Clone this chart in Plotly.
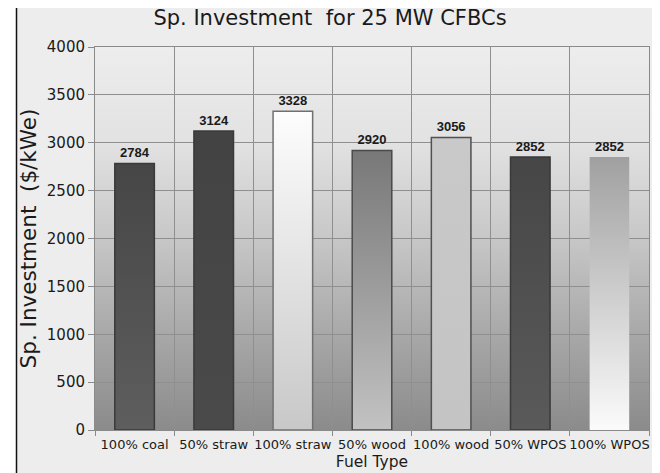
import base64
import plotly.graph_objects as go

# ---- data ----
fuel_types = ["100% coal", "50% straw", "100% straw", "50% wood",
              "100% wood", "50% WPOS", "100% WPOS"]
investment = [2784, 3124, 3328, 2920, 3056, 2852, 2852]

# bar shading (bottom colour, top colour) and outline per fuel type
bar_bottom = ["#5e5e5e", "#4a4a4a", "#c8c8c8", "#c2c2c2", "#c4c4c4", "#5a5a5a", "#fbfbfb"]
bar_top = ["#464646", "#434343", "#fdfdfd", "#787878", "#c9c9c9", "#464646", "#a0a0a0"]
bar_edge = ["#3a3a3a", "#3a3a3a", "#707070", "#4a4a4a", "#505050", "#3a3a3a", "rgba(0,0,0,0)"]

y_ticks = [0, 500, 1000, 1500, 2000, 2500, 3000, 3500, 4000]

# ---- geometry of the canvas ----
W, H = 660, 473
ML, MR, MT, MB = 95, 11, 47, 43
PW, PH = W - ML - MR, H - MT - MB
BAR_WIDTH = 0.5


def px_x(p):
    return (p - ML) / PW


def px_y(p):
    return (H - MB - p) / PH


fig = go.Figure()

# gradient bars drawn as filled outlines from the data values
for i, (name, v) in enumerate(zip(fuel_types, investment)):
    x0, x1 = i - BAR_WIDTH / 2, i + BAR_WIDTH / 2
    fig.add_trace(go.Scatter(
        x=[x0, x1, x1, x0, x0],
        y=[0, 0, v, v, 0],
        mode="lines",
        fill="toself",
        fillgradient=dict(type="vertical",
                          colorscale=[[0, bar_bottom[i]], [1, bar_top[i]]]),
        line=dict(color=bar_edge[i], width=1.5),
        hoverinfo="skip",
        showlegend=False,
        name=name,
    ))

# value labels above the bars (invisible markers give the label some lift)
fig.add_trace(go.Scatter(
    x=list(range(len(fuel_types))),
    y=investment,
    mode="markers+text",
    marker=dict(size=3, opacity=0),
    text=[str(v) for v in investment],
    textposition="top center",
    textfont=dict(family="Liberation Sans, Arial", size=13, color="#1a1a1a",
                  weight="bold"),
    hoverinfo="skip",
    showlegend=False,
))

# vertical background gradient of the plotting area
svg = (
    '<svg xmlns="http://www.w3.org/2000/svg" width="100" height="100" '
    'viewBox="0 0 100 100" preserveAspectRatio="none">'
    '<defs><linearGradient id="g" x1="0" y1="0" x2="0" y2="1">'
    '<stop offset="0" stop-color="#ededed"/>'
    '<stop offset="0.25" stop-color="#e2e2e2"/>'
    '<stop offset="0.5" stop-color="#c7c7c7"/>'
    '<stop offset="0.75" stop-color="#a8a8a8"/>'
    '<stop offset="1" stop-color="#8b8b8b"/>'
    '</linearGradient></defs>'
    '<rect x="0" y="0" width="100" height="100" fill="url(#g)"/></svg>'
)
bg_src = "data:image/svg+xml;base64," + base64.b64encode(svg.encode()).decode()

fig.update_layout(
    width=W, height=H,
    margin=dict(l=ML, r=MR, t=MT, b=MB, pad=0),
    paper_bgcolor="#ededed",
    plot_bgcolor="rgba(0,0,0,0)",
    font=dict(family="DejaVu Sans, Verdana", color="#1a1a1a"),
    title=dict(text="Sp. Investment  for 25 MW CFBCs", x=0.5, xanchor="center",
               y=1 - 18 / H, yanchor="middle",
               font=dict(family="DejaVu Sans, Verdana", size=21, color="#1a1a1a")),
    images=[dict(source=bg_src, xref="paper", yref="paper", x=0, y=1,
                 sizex=1, sizey=1, xanchor="left", yanchor="top",
                 sizing="stretch", layer="below")],
    shapes=[
        # white border strips around the chart panel
        dict(type="rect", xref="paper", yref="paper", x0=px_x(0), x1=px_x(16),
             y0=px_y(H), y1=px_y(0), fillcolor="white", line_width=0, layer="below"),
        dict(type="rect", xref="paper", yref="paper", x0=px_x(0), x1=px_x(W),
             y0=px_y(8), y1=px_y(0), fillcolor="white", line_width=0, layer="below"),
        dict(type="rect", xref="paper", yref="paper", x0=px_x(652), x1=px_x(W),
             y0=px_y(H), y1=px_y(0), fillcolor="white", line_width=0, layer="below"),
        dict(type="line", xref="paper", yref="paper", x0=px_x(16.5), x1=px_x(16.5),
             y0=px_y(H), y1=px_y(8), line=dict(color="#111111", width=1.5), layer="below"),
    ],
    showlegend=False,
)

fig.update_xaxes(
    range=[-0.5, len(fuel_types) - 0.5],
    automargin=False,
    tickmode="array",
    tickvals=list(range(len(fuel_types))),
    ticktext=fuel_types,
    ticks="",
    ticklabelstandoff=2,
    showgrid=False,
    zeroline=False,
    showline=True, mirror=True, linecolor="#8a8a8a", linewidth=1,
    tickfont=dict(family="DejaVu Sans, Verdana", size=13, color="#1a1a1a"),
    minor=dict(tickmode="array",
               tickvals=[k - 0.5 for k in range(len(fuel_types) + 1)],
               ticks="outside", ticklen=5, tickcolor="#8a8a8a",
               showgrid=True, gridcolor="#8f8f8f", gridwidth=1),
    title=dict(text="Fuel Type", standoff=5,
               font=dict(family="DejaVu Sans, Verdana", size=15.5, color="#1a1a1a")),
)

fig.update_yaxes(
    range=[0, 4000],
    automargin=False,
    tickmode="array",
    tickvals=y_ticks,
    ticks="outside", ticklen=6, tickcolor="#8a8a8a",
    showgrid=True, gridcolor="#8f8f8f", gridwidth=1,
    zeroline=False,
    showline=True, mirror=True, linecolor="#8a8a8a", linewidth=1,
    tickfont=dict(family="DejaVu Sans, Verdana", size=15, color="#1a1a1a"),
    title=dict(text="Sp. Investment  ($/kWe)", standoff=4,
               font=dict(family="DejaVu Sans, Verdana", size=21.5, color="#1a1a1a")),
)

fig.write_html("out.html")
